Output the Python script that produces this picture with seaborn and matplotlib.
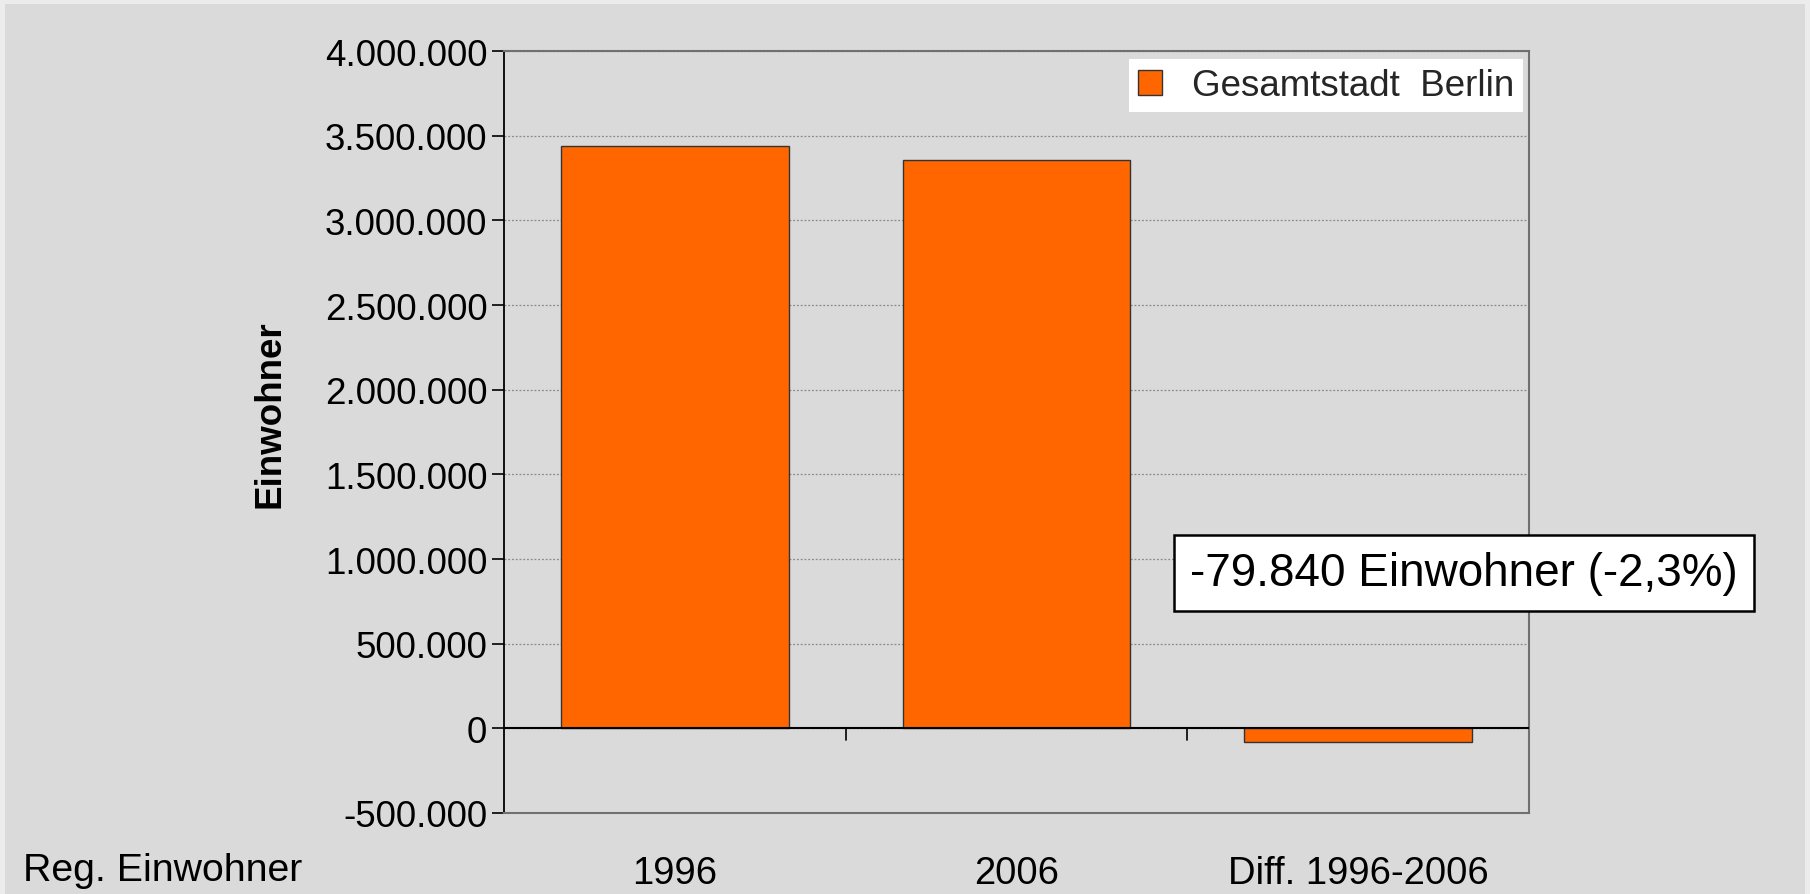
import numpy as np
import pandas as pd
import matplotlib
matplotlib.use('Agg')
import matplotlib.pyplot as plt
import matplotlib.transforms as mtransforms
from matplotlib.patches import Rectangle
from matplotlib.ticker import FuncFormatter, MultipleLocator
import seaborn as sns

# ============================================================
# Data
# ============================================================
categories = ['1996', '2006', 'Diff. 1996-2006']
einwohner = [3438000, 3358160, -79840]
series_label = 'Gesamtstadt  Berlin'
diff_text = '-79.840 Einwohner (-2,3%)'
ylabel = 'Einwohner'
row_label = 'Reg. Einwohner'

BAR_COLOR = '#FF6600'
BG = '#DADADA'
FONT = 26.5


def german_thousands(v, pos=None):
    return f"{int(round(v)):,}".replace(",", ".")


def main():
    sns.set_theme(style='white')
    plt.rcParams['font.family'] = ['Liberation Sans', 'DejaVu Sans']

    df = pd.DataFrame({'Jahr': categories, 'Einwohner': einwohner})

    fig = plt.figure(figsize=(18.1, 8.95), dpi=100)
    fig.patch.set_facecolor('#ECECEC')
    # inner grey panel (light frame at left, top and right)
    fig.add_artist(Rectangle((5 / 1810, 0), 1 - 10 / 1810, 1 - 5 / 895,
                             transform=fig.transFigure, facecolor=BG,
                             edgecolor='none', zorder=-10))

    ax = fig.add_axes([504 / 1810, 1 - 814 / 895, (1529 - 504) / 1810, (814 - 52) / 895])
    ax.set_facecolor(BG)

    sns.barplot(data=df, x='Jahr', y='Einwohner', color=BAR_COLOR, width=0.666,
                edgecolor='#333333', linewidth=1, saturation=1, ax=ax,
                label=series_label, zorder=3)

    ax.set_ylim(-500000, 4000000)
    ax.set_xlim(-0.5, 2.5)
    ax.yaxis.set_major_locator(MultipleLocator(500000))
    ax.yaxis.set_major_formatter(FuncFormatter(german_thousands))
    ax.tick_params(axis='y', labelsize=FONT, length=9, width=1.2, pad=3,
                   direction='out', left=True, colors='black')
    ax.set_ylabel('')
    ax.set_xlabel('')

    # dotted grid
    ax.yaxis.grid(True, linestyle=(0, (1.5, 1.5)), color='#8A8A8A', linewidth=0.9, zorder=0)
    ax.xaxis.grid(False)

    # spines
    ax.spines['left'].set_color('black')
    ax.spines['left'].set_linewidth(1.3)
    for s in ['top', 'right', 'bottom']:
        ax.spines[s].set_color('#707070')
        ax.spines[s].set_linewidth(1.5)

    # category axis at zero, with tick marks between categories
    ax.axhline(0, color='black', linewidth=1.5, zorder=4)
    trans = mtransforms.blended_transform_factory(ax.transData, ax.transAxes)
    tick_len = 12 / (814 - 52)
    zero_frac = 500000 / 4500000
    for xb in [0.5, 1.5]:
        ax.plot([xb, xb], [zero_frac - tick_len, zero_frac], color='black',
                linewidth=1.2, transform=trans, zorder=4, clip_on=False)

    # category labels below the plot area
    ax.set_xticks([])
    for i, cat in enumerate(categories):
        ax.text(i, -60 / (814 - 52), cat, transform=trans, ha='center', va='center',
                fontsize=27.5, color='black')

    # legend
    leg = ax.legend(loc='upper left', bbox_to_anchor=(1129 / 1810, 1 - 60 / 895),
                    bbox_transform=fig.transFigure, fontsize=FONT, frameon=True,
                    fancybox=False, framealpha=1, edgecolor='white',
                    handlelength=0.65, handleheight=0.65, handletextpad=0.8,
                    borderpad=0.25, borderaxespad=0)
    leg.get_frame().set_facecolor('white')
    leg.get_frame().set_linewidth(0)

    # texts
    fig.text(270 / 1810, 1 - 414 / 895, ylabel, rotation=90, ha='center', va='center',
             fontsize=FONT, fontweight='bold', color='black')
    fig.text(23 / 1810, 1 - 871 / 895, row_label, ha='left', va='center',
             fontsize=28.3, color='black')
    fig.text(1464 / 1810, 1 - 574 / 895, diff_text, ha='center', va='center',
             fontsize=33, color='black',
             bbox=dict(boxstyle='square,pad=0.35', facecolor='white',
                       edgecolor='black', linewidth=1.8))

    fig.savefig('out.png', dpi=100, facecolor=fig.get_facecolor())
    plt.close(fig)


if __name__ == "__main__":
    main()
